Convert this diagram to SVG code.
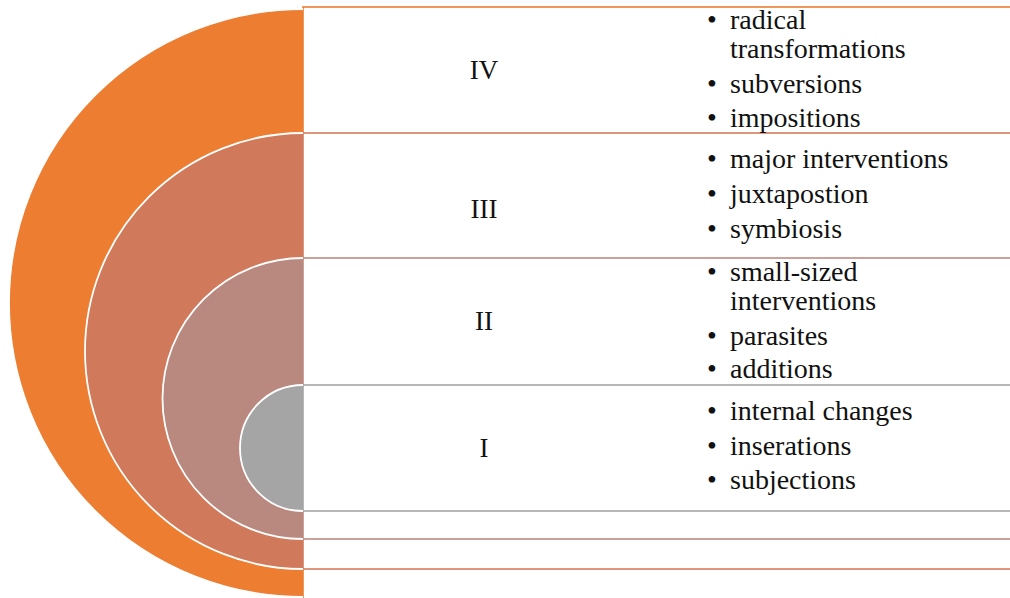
<svg xmlns="http://www.w3.org/2000/svg" width="1010" height="598" viewBox="0 0 1010 598">
<style>
.band{fill:#ffffff;stroke-width:1.6}
.arc{stroke:#ffffff;stroke-width:1.8}
.lbl{font-family:"Liberation Serif","Times New Roman",serif;font-size:27px;fill:#111;text-anchor:middle}
.txt{font-family:"Liberation Serif","Times New Roman",serif;font-size:28px;fill:#111}
</style>
<rect width="1010" height="598" fill="#ffffff"/>
<g id="node-IV">
<rect class="band" x="303" y="7" width="720" height="600" stroke="#ED7D31"/>
<path class="arc" d="M303,9 A294,294 0 0 0 303,597" fill="#ED7D31"/>
</g>
<g id="node-III">
<rect class="band" x="303" y="133" width="720" height="436" stroke="#D67C5D"/>
<path class="arc" d="M303,133 A218,218 0 0 0 303,569" fill="#D0795B"/>
</g>
<g id="node-II">
<rect class="band" x="303" y="258" width="720" height="281" stroke="#BF8A81"/>
<path class="arc" d="M303,258 A140.5,140.5 0 0 0 303,539" fill="#B9887F"/>
</g>
<g id="node-I">
<rect class="band" x="303" y="385" width="720" height="126" stroke="#A5A5A5"/>
<path class="arc" d="M303,385 A63,63 0 0 0 303,511" fill="#A5A5A5"/>
</g>
<g id="labels">
<text class="lbl" x="484" y="79">IV</text>
<text class="lbl" x="484" y="218">III</text>
<text class="lbl" x="484" y="330">II</text>
<text class="lbl" x="484" y="457">I</text>
</g>
<g id="items">
<text class="txt" x="707" y="29">•</text><text class="txt" x="730" y="29">radical</text>
<text class="txt" x="730" y="58">transformations</text>
<text class="txt" x="707" y="93">•</text><text class="txt" x="730" y="93">subversions</text>
<text class="txt" x="707" y="127">•</text><text class="txt" x="730" y="127">impositions</text>
<text class="txt" x="707" y="168">•</text><text class="txt" x="730" y="168">major interventions</text>
<text class="txt" x="707" y="203">•</text><text class="txt" x="730" y="203">juxtapostion</text>
<text class="txt" x="707" y="238">•</text><text class="txt" x="730" y="238">symbiosis</text>
<text class="txt" x="707" y="281">•</text><text class="txt" x="730" y="281">small-sized</text>
<text class="txt" x="730" y="310">interventions</text>
<text class="txt" x="707" y="345">•</text><text class="txt" x="730" y="345">parasites</text>
<text class="txt" x="707" y="378">•</text><text class="txt" x="730" y="378">additions</text>
<text class="txt" x="707" y="420">•</text><text class="txt" x="730" y="420">internal changes</text>
<text class="txt" x="707" y="455">•</text><text class="txt" x="730" y="455">inserations</text>
<text class="txt" x="707" y="489">•</text><text class="txt" x="730" y="489">subjections</text>
</g>
</svg>
